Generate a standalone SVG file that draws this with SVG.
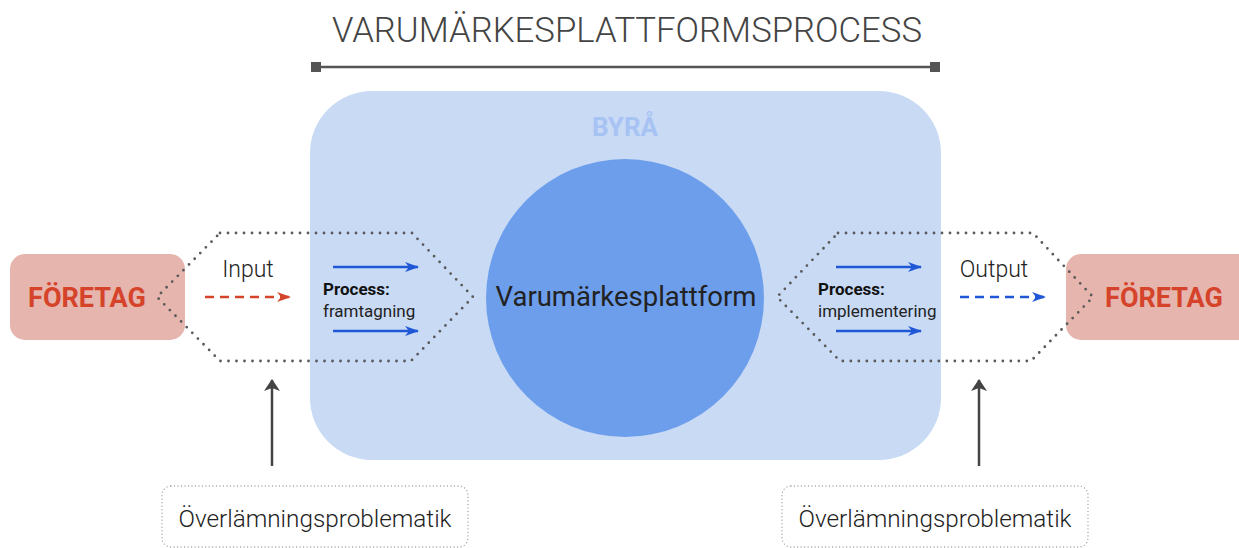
<svg xmlns="http://www.w3.org/2000/svg" width="1239" height="548" viewBox="0 0 1239 548">
  <defs>
    <style>
      .light { font-family: Roboto, "Liberation Sans", sans-serif; font-weight: 300; fill: #222; }
      .reg { font-family: Roboto, "Liberation Sans", sans-serif; font-weight: 400; fill: #222; }
      .bold { font-family: Roboto, "Liberation Sans", sans-serif; font-weight: 700; }
      .company { fill: #e6b5ad; }
      .company-label { fill: #d5432a; font-size: 27px; text-anchor: middle; }
      .hex { fill: none; stroke: #5a5a5a; stroke-width: 2.8; stroke-dasharray: 0 8; stroke-linecap: round; }
      .note { fill: #fff; stroke: #999; stroke-width: 1.3; stroke-dasharray: 0 3.5; stroke-linecap: round; }
      .flow { stroke: #1f57d6; stroke-width: 2.5; fill: none; }
    </style>
    <marker id="head-blue" viewBox="0 0 14 10" refX="13" refY="5" markerWidth="14" markerHeight="10" markerUnits="userSpaceOnUse" orient="auto">
      <path d="M0,0 L14,5 L0,10 L4,5 Z" fill="#1f57d6"/>
    </marker>
    <marker id="head-red" viewBox="0 0 14 10" refX="13" refY="5" markerWidth="14" markerHeight="10" markerUnits="userSpaceOnUse" orient="auto">
      <path d="M0,0 L14,5 L0,10 L4,5 Z" fill="#d5432a"/>
    </marker>
    <marker id="head-gray" viewBox="0 0 12 16" refX="11" refY="8" markerWidth="12" markerHeight="16" markerUnits="userSpaceOnUse" orient="auto">
      <path d="M0,0 L12,8 L0,16 L3,8 Z" fill="#444"/>
    </marker>
  </defs>

  <rect width="1239" height="548" fill="#fff"/>

  <!-- title and span bar -->
  <g id="title">
    <text class="light" x="627" y="42" font-size="34.7" text-anchor="middle" style="fill:#444">VARUMÄRKESPLATTFORMSPROCESS</text>
    <line x1="316" y1="67" x2="935" y2="67" stroke="#555" stroke-width="2.5"/>
    <rect x="311" y="62" width="10" height="10" fill="#555"/>
    <rect x="930" y="62" width="10" height="10" fill="#555"/>
  </g>

  <!-- agency area -->
  <g id="byra">
    <rect x="310" y="91" width="631" height="369" rx="62" fill="#c9daf5"/>
    <text class="bold" x="625" y="136" font-size="26" text-anchor="middle" fill="#a6c3f3">BYRÅ</text>
  </g>

  <!-- core platform -->
  <g id="plattform">
    <circle cx="625" cy="298" r="139" fill="#6d9eeb"/>
    <text class="reg" x="626" y="306" font-size="27.5" text-anchor="middle">Varumärkesplattform</text>
  </g>

  <!-- company boxes -->
  <g id="foretag-in">
    <rect class="company" x="10" y="254" width="175" height="86" rx="15"/>
    <text class="bold company-label" x="87" y="307">FÖRETAG</text>
  </g>
  <g id="foretag-out">
    <rect class="company" x="1066" y="254" width="190" height="86" rx="15"/>
    <text class="bold company-label" x="1164" y="307">FÖRETAG</text>
  </g>

  <!-- handover zones -->
  <g id="zon-input">
    <path class="hex" d="M220,233 L412,233 L473,297 L411,361 L220,361 L157,297 Z"/>
    <text class="light" x="248" y="277" font-size="23" text-anchor="middle">Input</text>
    <text class="bold" x="323" y="295" font-size="17" fill="#111">Process:</text>
    <text class="reg" x="323" y="317" font-size="17" fill="#333">framtagning</text>
  </g>
  <g id="zon-output">
    <path class="hex" d="M838,233 L1033,233 L1093,297 L1031,361 L840,361 L777,297 Z"/>
    <text class="light" x="994" y="277" font-size="23" text-anchor="middle">Output</text>
    <text class="bold" x="818" y="295" font-size="17" fill="#111">Process:</text>
    <text class="reg" x="818" y="317" font-size="17" fill="#333">implementering</text>
  </g>

  <!-- notes -->
  <g id="not-vanster">
    <rect class="note" x="162" y="486" width="306" height="61" rx="9"/>
    <text class="light" x="315" y="527" font-size="24.3" text-anchor="middle">Överlämningsproblematik</text>
  </g>
  <g id="not-hoger">
    <rect class="note" x="782" y="486" width="306" height="61" rx="9"/>
    <text class="light" x="935" y="527" font-size="24.3" text-anchor="middle">Överlämningsproblematik</text>
  </g>

  <!-- connectors -->
  <g id="connectors">
    <line x1="205" y1="297" x2="290" y2="297" stroke="#d5432a" stroke-width="2.5" stroke-dasharray="9 6" marker-end="url(#head-red)"/>
    <line class="flow" x1="333" y1="267" x2="418" y2="267" marker-end="url(#head-blue)"/>
    <line class="flow" x1="333" y1="331" x2="418" y2="331" marker-end="url(#head-blue)"/>
    <line class="flow" x1="836" y1="267" x2="921" y2="267" marker-end="url(#head-blue)"/>
    <line class="flow" x1="836" y1="331" x2="921" y2="331" marker-end="url(#head-blue)"/>
    <line class="flow" x1="960" y1="297" x2="1045" y2="297" stroke-dasharray="9 6" marker-end="url(#head-blue)"/>
    <line x1="272" y1="466" x2="272" y2="380" stroke="#444" stroke-width="2.5" marker-end="url(#head-gray)"/>
    <line x1="979" y1="466" x2="979" y2="380" stroke="#444" stroke-width="2.5" marker-end="url(#head-gray)"/>
  </g>
</svg>
